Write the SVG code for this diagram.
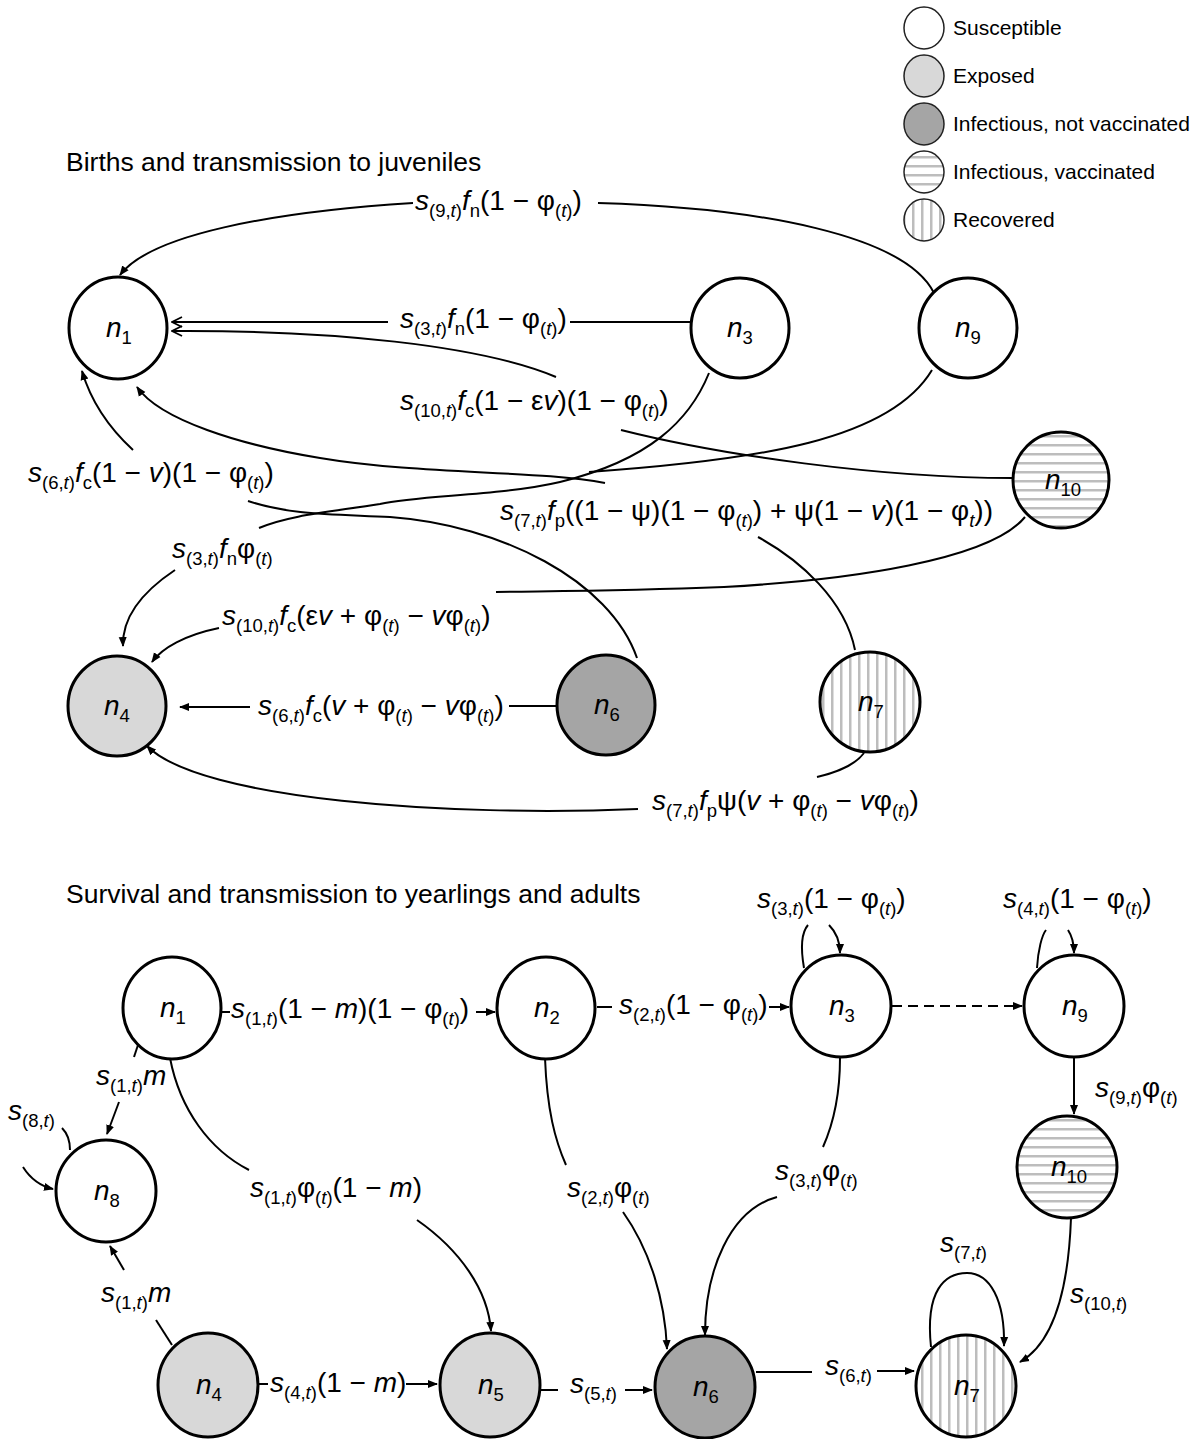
<svg xmlns="http://www.w3.org/2000/svg" width="1204" height="1439" viewBox="0 0 1204 1439">
<style>
text{font-family:"Liberation Sans",Arial,sans-serif;fill:#000}
.m{font-size:28px}
.t{font-size:26.5px}
.lg{font-size:21px}
.nl{font-size:28px}
.i{font-style:italic}
.sb{font-size:18.5px}
.nd{stroke:#000;stroke-width:3}
.lgc{stroke:#222;stroke-width:1.5}
.c path{fill:none;stroke:#000;stroke-width:2}
.ar{marker-end:url(#ah)}
.ch{marker-end:url(#chev)}
</style>
<defs>
<marker id="ah" viewBox="0 0 10 10" refX="9" refY="5" markerWidth="10" markerHeight="10" markerUnits="userSpaceOnUse" orient="auto"><path d="M0,1 L10,5 L0,9 z" fill="#000"/></marker>
<marker id="chev" viewBox="0 0 12 12" refX="11" refY="6" markerWidth="12" markerHeight="12" markerUnits="userSpaceOnUse" orient="auto"><path d="M1,1 L11,6 L1,11" fill="none" stroke="#000" stroke-width="1.8"/></marker>
<pattern id="hs" width="9" height="9" patternUnits="userSpaceOnUse"><rect width="9" height="9" fill="#fff"/><rect y="3" width="9" height="2.5" fill="#bdbdbd"/></pattern>
<pattern id="vs" width="9" height="9" patternUnits="userSpaceOnUse"><rect width="9" height="9" fill="#fff"/><rect x="3" width="2.5" height="9" fill="#bdbdbd"/></pattern>
</defs>
<rect width="1204" height="1439" fill="#fff"/>

<g id="legend">
<ellipse class="lgc" cx="924" cy="28" rx="20" ry="21" fill="#fff"/>
<text class="lg" x="953" y="35">Susceptible</text>
<ellipse class="lgc" cx="924" cy="76" rx="20" ry="21" fill="#d8d8d8"/>
<text class="lg" x="953" y="83">Exposed</text>
<ellipse class="lgc" cx="924" cy="124" rx="20" ry="21" fill="#a5a5a5"/>
<text class="lg" x="953" y="131">Infectious, not vaccinated</text>
<ellipse class="lgc" cx="924" cy="172" rx="20" ry="21" fill="url(#hs)"/>
<text class="lg" x="953" y="179">Infectious, vaccinated</text>
<ellipse class="lgc" cx="924" cy="220" rx="20" ry="21" fill="url(#vs)"/>
<text class="lg" x="953" y="227">Recovered</text>
</g>

<text class="t" x="66" y="171">Births and transmission to juveniles</text>
<text class="t" x="66" y="903">Survival and transmission to yearlings and adults</text>

<g id="connectors" class="c">
<!-- top section -->
<path d="M934 293 C905 235 760 208 598 203"/>
<path class="ar" d="M413 203 C270 212 150 235 120 275"/>
<path d="M690 322 L570 322"/>
<path class="ch" d="M388 322 L172 322"/>
<path d="M1012 478 C880 478 720 455 621 430"/>
<path class="ch" d="M556 377 C480 345 330 330 172 331"/>
<path d="M637 658 C610 580 500 525 390 517 C330 514 290 515 248 501"/>
<path class="ar" d="M133 450 Q95 415 82 371"/>
<path d="M855 650 C845 600 800 560 758 537"/>
<path class="ar" d="M605 483 C540 470 420 475 320 458 C240 445 160 420 137 387"/>
<path d="M932 370 C890 440 760 460 589 472"/>
<path d="M709 373 C690 420 650 460 560 482 C500 496 420 495 380 504 C330 512 290 515 259 528"/>
<path class="ar" d="M175 570 C145 590 122 615 123 646"/>
<path d="M1025 517 C990 560 850 580 724 587 C620 591 560 591 496 592"/>
<path class="ar" d="M219 628 C185 635 162 648 152 662"/>
<path d="M556 706 L509 706"/>
<path class="ar" d="M250 707 L180 707"/>
<path d="M864 753 C855 765 835 773 817 777"/>
<path class="ar" d="M638 809 C450 817 200 800 147 746"/>
<!-- bottom section -->
<path d="M221 1012 L230 1012"/>
<path class="ar" d="M476 1012 L495 1012"/>
<path d="M597 1007 L612 1007"/>
<path class="ar" d="M769 1007 L789 1007"/>
<path class="ar" d="M892 1006 L1022 1006" stroke-dasharray="10 6"/>
<path d="M804 968 C800 945 802 932 808 925"/>
<path class="ar" d="M829 925 C836 932 840 942 840 953"/>
<path d="M1037 968 C1038 950 1042 935 1046 930"/>
<path class="ar" d="M1068 930 C1072 936 1074 944 1074 953"/>
<path class="ar" d="M1074 1058 L1074 1114"/>
<path class="ar" d="M1071 1218 C1068 1300 1050 1345 1020 1362"/>
<path class="ar" d="M931 1347 C925 1290 945 1273 967 1273 C990 1273 1005 1300 1004 1346"/>
<path d="M756 1372 L812 1372"/>
<path class="ar" d="M877 1371 L914 1371"/>
<path d="M541 1390 L558 1390"/>
<path class="ar" d="M625 1390 L652 1390"/>
<path d="M258 1384 L268 1384"/>
<path class="ar" d="M406 1384 L437 1384"/>
<path d="M172 1345 L156 1320"/>
<path class="ar" d="M124 1270 L110 1246"/>
<path d="M138 1045 L134 1057"/>
<path class="ar" d="M119 1102 L107 1134"/>
<path d="M70 1150 C70 1140 67 1133 62 1128"/>
<path class="ar" d="M23 1167 C30 1178 40 1186 53 1189"/>
<path d="M170 1058 C180 1110 210 1150 249 1170"/>
<path class="ar" d="M417 1220 C460 1250 488 1290 491 1331"/>
<path d="M545 1058 C547 1110 555 1140 566 1165"/>
<path class="ar" d="M623 1212 C650 1250 665 1300 667 1349"/>
<path d="M840 1058 C840 1090 835 1120 823 1147"/>
<path class="ar" d="M777 1197 C730 1210 705 1270 705 1335"/>
</g>

<g id="edge-labels">
<text class="m" x="415" y="210"><tspan class="i">s</tspan><tspan class="sb" dy="7">(9,<tspan class="i">t</tspan>)</tspan><tspan class="i" dy="-7">f</tspan><tspan class="sb" dy="7">n</tspan><tspan dy="-7">(1 − φ</tspan><tspan class="sb" dy="7">(<tspan class="i">t</tspan>)</tspan><tspan dy="-7">)</tspan></text>
<text class="m" x="400" y="328"><tspan class="i">s</tspan><tspan class="sb" dy="7">(3,<tspan class="i">t</tspan>)</tspan><tspan class="i" dy="-7">f</tspan><tspan class="sb" dy="7">n</tspan><tspan dy="-7">(1 − φ</tspan><tspan class="sb" dy="7">(<tspan class="i">t</tspan>)</tspan><tspan dy="-7">)</tspan></text>
<text class="m" x="400" y="410"><tspan class="i">s</tspan><tspan class="sb" dy="7">(10,<tspan class="i">t</tspan>)</tspan><tspan class="i" dy="-7">f</tspan><tspan class="sb" dy="7">c</tspan><tspan dy="-7">(1 − ε</tspan><tspan class="i">v</tspan><tspan>)(1 − φ</tspan><tspan class="sb" dy="7">(<tspan class="i">t</tspan>)</tspan><tspan dy="-7">)</tspan></text>
<text class="m" x="28" y="482"><tspan class="i">s</tspan><tspan class="sb" dy="7">(6,<tspan class="i">t</tspan>)</tspan><tspan class="i" dy="-7">f</tspan><tspan class="sb" dy="7">c</tspan><tspan dy="-7">(1 − </tspan><tspan class="i">v</tspan><tspan>)(1 − φ</tspan><tspan class="sb" dy="7">(<tspan class="i">t</tspan>)</tspan><tspan dy="-7">)</tspan></text>
<text class="m" x="500" y="520"><tspan class="i">s</tspan><tspan class="sb" dy="7">(7,<tspan class="i">t</tspan>)</tspan><tspan class="i" dy="-7">f</tspan><tspan class="sb" dy="7">p</tspan><tspan dy="-7">((1 − ψ)(1 − φ</tspan><tspan class="sb" dy="7">(<tspan class="i">t</tspan>)</tspan><tspan dy="-7">) + ψ(1 − </tspan><tspan class="i">v</tspan><tspan>)(1 − φ</tspan><tspan class="sb i" dy="7">t</tspan><tspan dy="-7">))</tspan></text>
<text class="m" x="172" y="558"><tspan class="i">s</tspan><tspan class="sb" dy="7">(3,<tspan class="i">t</tspan>)</tspan><tspan class="i" dy="-7">f</tspan><tspan class="sb" dy="7">n</tspan><tspan dy="-7">φ</tspan><tspan class="sb" dy="7">(<tspan class="i">t</tspan>)</tspan></text>
<text class="m" x="222" y="625"><tspan class="i">s</tspan><tspan class="sb" dy="7">(10,<tspan class="i">t</tspan>)</tspan><tspan class="i" dy="-7">f</tspan><tspan class="sb" dy="7">c</tspan><tspan dy="-7">(ε</tspan><tspan class="i">v</tspan><tspan> + φ</tspan><tspan class="sb" dy="7">(<tspan class="i">t</tspan>)</tspan><tspan dy="-7"> − </tspan><tspan class="i">v</tspan><tspan>φ</tspan><tspan class="sb" dy="7">(<tspan class="i">t</tspan>)</tspan><tspan dy="-7">)</tspan></text>
<text class="m" x="258" y="715"><tspan class="i">s</tspan><tspan class="sb" dy="7">(6,<tspan class="i">t</tspan>)</tspan><tspan class="i" dy="-7">f</tspan><tspan class="sb" dy="7">c</tspan><tspan dy="-7">(</tspan><tspan class="i">v</tspan><tspan> + φ</tspan><tspan class="sb" dy="7">(<tspan class="i">t</tspan>)</tspan><tspan dy="-7"> − </tspan><tspan class="i">v</tspan><tspan>φ</tspan><tspan class="sb" dy="7">(<tspan class="i">t</tspan>)</tspan><tspan dy="-7">)</tspan></text>
<text class="m" x="652" y="810"><tspan class="i">s</tspan><tspan class="sb" dy="7">(7,<tspan class="i">t</tspan>)</tspan><tspan class="i" dy="-7">f</tspan><tspan class="sb" dy="7">p</tspan><tspan dy="-7">ψ(</tspan><tspan class="i">v</tspan><tspan> + φ</tspan><tspan class="sb" dy="7">(<tspan class="i">t</tspan>)</tspan><tspan dy="-7"> − </tspan><tspan class="i">v</tspan><tspan>φ</tspan><tspan class="sb" dy="7">(<tspan class="i">t</tspan>)</tspan><tspan dy="-7">)</tspan></text>

<text class="m" x="231" y="1018"><tspan class="i">s</tspan><tspan class="sb" dy="7">(1,<tspan class="i">t</tspan>)</tspan><tspan dy="-7">(1 − </tspan><tspan class="i">m</tspan><tspan>)(1 − φ</tspan><tspan class="sb" dy="7">(<tspan class="i">t</tspan>)</tspan><tspan dy="-7">)</tspan></text>
<text class="m" x="619" y="1014"><tspan class="i">s</tspan><tspan class="sb" dy="7">(2,<tspan class="i">t</tspan>)</tspan><tspan dy="-7">(1 − φ</tspan><tspan class="sb" dy="7">(<tspan class="i">t</tspan>)</tspan><tspan dy="-7">)</tspan></text>
<text class="m" x="757" y="908"><tspan class="i">s</tspan><tspan class="sb" dy="7">(3,<tspan class="i">t</tspan>)</tspan><tspan dy="-7">(1 − φ</tspan><tspan class="sb" dy="7">(<tspan class="i">t</tspan>)</tspan><tspan dy="-7">)</tspan></text>
<text class="m" x="1003" y="908"><tspan class="i">s</tspan><tspan class="sb" dy="7">(4,<tspan class="i">t</tspan>)</tspan><tspan dy="-7">(1 − φ</tspan><tspan class="sb" dy="7">(<tspan class="i">t</tspan>)</tspan><tspan dy="-7">)</tspan></text>
<text class="m" x="1095" y="1097"><tspan class="i">s</tspan><tspan class="sb" dy="7">(9,<tspan class="i">t</tspan>)</tspan><tspan dy="-7">φ</tspan><tspan class="sb" dy="7">(<tspan class="i">t</tspan>)</tspan></text>
<text class="m" x="96" y="1085"><tspan class="i">s</tspan><tspan class="sb" dy="7">(1,<tspan class="i">t</tspan>)</tspan><tspan class="i" dy="-7">m</tspan></text>
<text class="m" x="8" y="1120"><tspan class="i">s</tspan><tspan class="sb" dy="7">(8,<tspan class="i">t</tspan>)</tspan></text>
<text class="m" x="250" y="1197"><tspan class="i">s</tspan><tspan class="sb" dy="7">(1,<tspan class="i">t</tspan>)</tspan><tspan dy="-7">φ</tspan><tspan class="sb" dy="7">(<tspan class="i">t</tspan>)</tspan><tspan dy="-7">(1 − </tspan><tspan class="i">m</tspan><tspan>)</tspan></text>
<text class="m" x="567" y="1197"><tspan class="i">s</tspan><tspan class="sb" dy="7">(2,<tspan class="i">t</tspan>)</tspan><tspan dy="-7">φ</tspan><tspan class="sb" dy="7">(<tspan class="i">t</tspan>)</tspan></text>
<text class="m" x="775" y="1180"><tspan class="i">s</tspan><tspan class="sb" dy="7">(3,<tspan class="i">t</tspan>)</tspan><tspan dy="-7">φ</tspan><tspan class="sb" dy="7">(<tspan class="i">t</tspan>)</tspan></text>
<text class="m" x="101" y="1302"><tspan class="i">s</tspan><tspan class="sb" dy="7">(1,<tspan class="i">t</tspan>)</tspan><tspan class="i" dy="-7">m</tspan></text>
<text class="m" x="270" y="1392"><tspan class="i">s</tspan><tspan class="sb" dy="7">(4,<tspan class="i">t</tspan>)</tspan><tspan dy="-7">(1 − </tspan><tspan class="i">m</tspan><tspan>)</tspan></text>
<text class="m" x="570" y="1393"><tspan class="i">s</tspan><tspan class="sb" dy="7">(5,<tspan class="i">t</tspan>)</tspan></text>
<text class="m" x="825" y="1375"><tspan class="i">s</tspan><tspan class="sb" dy="7">(6,<tspan class="i">t</tspan>)</tspan></text>
<text class="m" x="940" y="1252"><tspan class="i">s</tspan><tspan class="sb" dy="7">(7,<tspan class="i">t</tspan>)</tspan></text>
<text class="m" x="1070" y="1303"><tspan class="i">s</tspan><tspan class="sb" dy="7">(10,<tspan class="i">t</tspan>)</tspan></text>
</g>

<!-- top nodes -->
<g id="top-n1"><ellipse class="nd" cx="118" cy="328" rx="49" ry="51" fill="#fff"/><text class="nl" x="106" y="337"><tspan class="i">n</tspan><tspan class="sb" dy="7">1</tspan></text></g>
<g id="top-n3"><ellipse class="nd" cx="740" cy="328" rx="49" ry="50" fill="#fff"/><text class="nl" x="727" y="337"><tspan class="i">n</tspan><tspan class="sb" dy="7">3</tspan></text></g>
<g id="top-n9"><ellipse class="nd" cx="968" cy="328" rx="49" ry="50" fill="#fff"/><text class="nl" x="955" y="337"><tspan class="i">n</tspan><tspan class="sb" dy="7">9</tspan></text></g>
<g id="top-n10"><ellipse class="nd" cx="1061" cy="480" rx="48" ry="48" fill="url(#hs)"/><text class="nl" x="1045" y="489"><tspan class="i">n</tspan><tspan class="sb" dy="7">10</tspan></text></g>
<g id="top-n4"><ellipse class="nd" cx="117" cy="706" rx="49" ry="50" fill="#d8d8d8"/><text class="nl" x="104" y="715"><tspan class="i">n</tspan><tspan class="sb" dy="7">4</tspan></text></g>
<g id="top-n6"><ellipse class="nd" cx="606" cy="705" rx="49" ry="50" fill="#a5a5a5"/><text class="nl" x="594" y="714"><tspan class="i">n</tspan><tspan class="sb" dy="7">6</tspan></text></g>
<g id="top-n7"><ellipse class="nd" cx="870" cy="702" rx="50" ry="50" fill="url(#vs)"/><text class="nl" x="858" y="711"><tspan class="i">n</tspan><tspan class="sb" dy="7">7</tspan></text></g>

<!-- bottom nodes -->
<g id="bot-n1"><ellipse class="nd" cx="172" cy="1008" rx="49" ry="51" fill="#fff"/><text class="nl" x="160" y="1017"><tspan class="i">n</tspan><tspan class="sb" dy="7">1</tspan></text></g>
<g id="bot-n2"><ellipse class="nd" cx="546" cy="1008" rx="49" ry="51" fill="#fff"/><text class="nl" x="534" y="1017"><tspan class="i">n</tspan><tspan class="sb" dy="7">2</tspan></text></g>
<g id="bot-n3"><ellipse class="nd" cx="841" cy="1006" rx="50" ry="51" fill="#fff"/><text class="nl" x="829" y="1015"><tspan class="i">n</tspan><tspan class="sb" dy="7">3</tspan></text></g>
<g id="bot-n9"><ellipse class="nd" cx="1074" cy="1006" rx="50" ry="51" fill="#fff"/><text class="nl" x="1062" y="1015"><tspan class="i">n</tspan><tspan class="sb" dy="7">9</tspan></text></g>
<g id="bot-n10"><ellipse class="nd" cx="1067" cy="1167" rx="50" ry="51" fill="url(#hs)"/><text class="nl" x="1051" y="1176"><tspan class="i">n</tspan><tspan class="sb" dy="7">10</tspan></text></g>
<g id="bot-n8"><ellipse class="nd" cx="106" cy="1191" rx="50" ry="51" fill="#fff"/><text class="nl" x="94" y="1200"><tspan class="i">n</tspan><tspan class="sb" dy="7">8</tspan></text></g>
<g id="bot-n4"><ellipse class="nd" cx="208" cy="1385" rx="50" ry="52" fill="#d8d8d8"/><text class="nl" x="196" y="1394"><tspan class="i">n</tspan><tspan class="sb" dy="7">4</tspan></text></g>
<g id="bot-n5"><ellipse class="nd" cx="490" cy="1385" rx="50" ry="52" fill="#d8d8d8"/><text class="nl" x="478" y="1394"><tspan class="i">n</tspan><tspan class="sb" dy="7">5</tspan></text></g>
<g id="bot-n6"><ellipse class="nd" cx="705" cy="1387" rx="50" ry="51" fill="#a5a5a5"/><text class="nl" x="693" y="1396"><tspan class="i">n</tspan><tspan class="sb" dy="7">6</tspan></text></g>
<g id="bot-n7"><ellipse class="nd" cx="966" cy="1386" rx="50" ry="51" fill="url(#vs)"/><text class="nl" x="954" y="1395"><tspan class="i">n</tspan><tspan class="sb" dy="7">7</tspan></text></g>
</svg>
